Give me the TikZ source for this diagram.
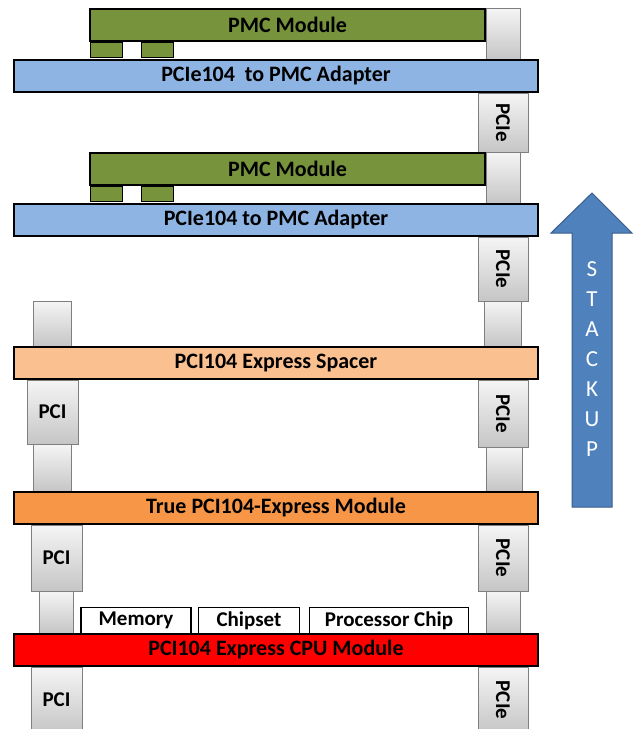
\documentclass[tikz,border=0pt]{standalone}
\usepackage{fontspec}
\setmainfont{Carlito}
\usepackage{tikz}
\usetikzlibrary{shadings}
\definecolor{pmcgreen}{HTML}{77933C}
\definecolor{adapterblue}{HTML}{8EB4E3}
\definecolor{spacerpeach}{HTML}{FAC090}
\definecolor{trueorange}{HTML}{F79646}
\definecolor{cpured}{HTML}{FF0000}
\definecolor{arrowblue}{HTML}{4F81BD}
\definecolor{arrowedge}{HTML}{385D8A}
\definecolor{conngray}{HTML}{7F7F7F}
\tikzset{board/.style = {draw=black, line width=2pt, minimum width=524pt,
                         minimum height=32pt, inner sep=0pt,
                         font=\fontsize{22}{24}\selectfont\bfseries},
         pmc/.style   = {board, fill=pmcgreen, minimum width=395pt},
         tab/.style   = {draw=black, line width=1.5pt, fill=pmcgreen,
                         minimum width=32pt, minimum height=15pt, inner sep=0pt},
         conn/.style  = {draw=conngray, line width=0.8pt, top color=gray!8,
                         bottom color=gray!45, inner sep=0pt,
                         font=\fontsize{21}{24}\selectfont\bfseries},
         chip/.style  = {draw=black, line width=1.5pt, fill=white, inner sep=0pt,
                         minimum height=26pt,
                         font=\fontsize{21}{24}\selectfont\bfseries}}

\begin{document}
\begin{tikzpicture}[x=1pt, y=-1pt]
    \useasboundingbox (0, 0) rectangle (640, 729);

    % connectors on the right
    \node [conn, minimum width=34pt, minimum height=51pt] (stubRa) at (503, 33.5) {};
    \node [conn, minimum width=50pt, minimum height=59pt] (pcieA) at (503, 122.5) {\rotatebox{-90}{PCIe}};
    \node [conn, minimum width=34pt, minimum height=51pt] (stubRb) at (503, 177.5) {};
    \node [conn, minimum width=50pt, minimum height=64pt] (pcieB) at (503, 269) {\rotatebox{-90}{PCIe}};
    \node [conn, minimum width=37pt, minimum height=45pt] (stubRc) at (503, 323.5) {};
    \node [conn, minimum width=50pt, minimum height=67pt] (pcieC) at (503, 413.5) {\rotatebox{-90}{PCIe}};
    \node [conn, minimum width=36pt, minimum height=44pt] (stubRd) at (504, 469) {};
    \node [conn, minimum width=50pt, minimum height=66pt] (pcieD) at (503, 558) {\rotatebox{-90}{PCIe}};
    \node [conn, minimum width=34pt, minimum height=42pt] (stubRe) at (503.5, 612) {};
    \node [conn, minimum width=50pt, minimum height=66pt] (pcieE) at (503, 700) {\rotatebox{-90}{PCIe}};

    % connectors on the left
    \node [conn, minimum width=38pt, minimum height=45pt] (stubLa) at (52, 323.5) {};
    \node [conn, minimum width=51pt, minimum height=64pt] (pciA) at (52.5, 412) {PCI};
    \node [conn, minimum width=38pt, minimum height=47pt] (stubLb) at (52, 467.5) {};
    \node [conn, minimum width=51pt, minimum height=66pt] (pciB) at (56.5, 558) {PCI};
    \node [conn, minimum width=34pt, minimum height=42pt] (stubLc) at (56, 612) {};
    \node [conn, minimum width=51pt, minimum height=66pt] (pciC) at (56.5, 700) {PCI};

    % PMC modules
    \node [pmc] (pmcA) at (287.5, 25) {PMC Module};
    \node [tab] (tabAa) at (106.5, 50) {};
    \node [tab] (tabAb) at (157.5, 50) {};
    \node [pmc] (pmcB) at (287.5, 169) {PMC Module};
    \node [tab] (tabBa) at (106.5, 194) {};
    \node [tab] (tabBb) at (157.5, 194) {};

    % boards
    \node [board, fill=adapterblue] (adapterA) at (276, 76) {PCIe104~~to PMC Adapter};
    \node [board, fill=adapterblue] (adapterB) at (276, 220) {PCIe104 to PMC Adapter};
    \node [board, fill=spacerpeach] (spacer) at (276, 363) {PCI104 Express~Spacer};
    \node [board, fill=trueorange] (truemod) at (276, 508) {True PCI104-Express~Module};
    \node [board, fill=cpured] (cpu) at (276, 650) {PCI104 Express~CPU Module};

    % chips on the CPU module
    \node [chip, minimum width=110pt] (memory) at (136, 620.5) {Memory};
    \node [chip, minimum width=101pt] (chipset) at (249, 620.5) {Chipset};
    \node [chip, minimum width=159pt] (processor) at (389, 620.5) {Processor Chip};

    % stack up arrow
    \draw [arrowedge, line width=1pt, fill=arrowblue]
        (592, 193) -- (632, 233) -- (612, 233) -- (612, 507)
        -- (572, 507) -- (572, 233) -- (551, 233) -- cycle;
    \node [white, align=center, font=\fontsize{23}{30}\selectfont] (stack) at (592, 359)
        {S\\T\\A\\C\\K\\U\\P};
\end{tikzpicture}
\end{document}
